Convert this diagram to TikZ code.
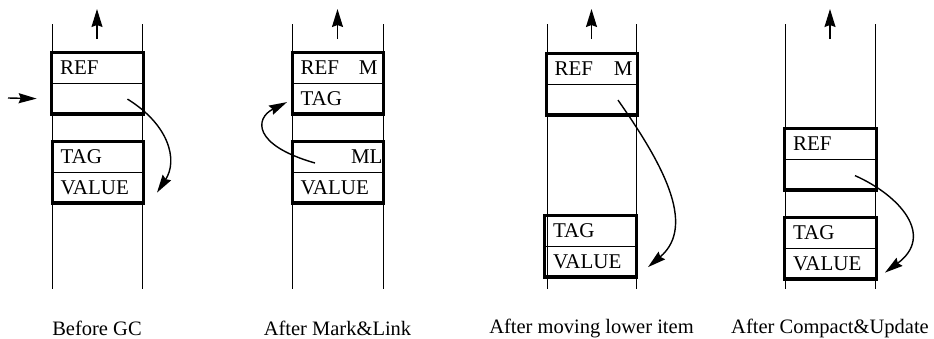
\documentclass[tikz,border=0pt]{standalone}
\usepackage{fontspec}
\setmainfont{Liberation Serif}
\usetikzlibrary{positioning,arrows.meta}
\def\lanelist{{1/52/142/Before GC}, {2/292/383/After Mark\&Link}, {3/547/636/After moving lower item}, {4/785/875/After Compact\&Update}}
\tikzstyle{lane}=[draw,line width=0.8pt]
\tikzstyle{cell}=[draw,line width=0.6pt,minimum height=30pt,text width=75pt,inner xsep=8pt,inner ysep=0pt,align=left,font=\fontsize{21}{24}\selectfont]
\tikzstyle{frame}=[draw,line width=3.2pt]
\tikzstyle{caption}=[font=\fontsize{20.5}{24}\selectfont]
\tikzstyle{link}=[draw,line width=1.4pt,-{Stealth[length=18pt,width=10pt,inset=2pt]}]
\tikzstyle{stackup}=[draw,line width=1.3pt,-{Stealth[length=18pt,width=11pt,inset=2pt]}]

\begin{document}
\begin{tikzpicture}[x=1pt,y=-1pt]
  \useasboundingbox (0,0) rectangle (934,338);

  % First we draw the stack lanes
  \foreach \i/\xl/\xr/\txt in \lanelist {
    \path[lane] (\xl,24) -- (\xl,289);
    \path[lane] (\xr,24) -- (\xr,289);
    \coordinate (tip\i) at ({(\xl+\xr)/2},9);
    \coordinate (foot\i) at ({(\xl+\xr)/2},39);
    \path[stackup] (foot\i) -- (tip\i);
    \node[caption] (cap\i) at ({(\xl+\xr)/2},328) {\txt};
  }

  % Before GC
  \node[cell] (ref1) at (97.5,68) {REF};
  \node[cell,below=0pt of ref1] (hole1) {};
  \node[cell] (tag1) at (98,157) {TAG};
  \node[cell,below=0pt of tag1] (val1) {VALUE};

  % After Mark&Link
  \node[cell] (ref2) at (338,68) {REF\hfill M\kern-2pt};
  \node[cell,below=0pt of ref2] (tag2) {TAG};
  \node[cell] (mark2) at (338,157) {\hfill ML\kern-7pt};
  \node[cell,below=0pt of mark2] (val2) {VALUE};

  % After moving lower item
  \node[cell] (ref3) at (592,69) {REF\hfill M\kern-3pt};
  \node[cell,below=0pt of ref3] (hole3) {};
  \node[cell] (tag3) at (590.5,231) {TAG};
  \node[cell,below=0pt of tag3] (val3) {VALUE};

  % After Compact&Update
  \node[cell] (ref4) at (830.5,144) {REF};
  \node[cell,below=0pt of ref4] (hole4) {};
  \node[cell] (tag4) at (830.5,233) {TAG};
  \node[cell,below=0pt of tag4] (val4) {VALUE};

  % Thick borders round each item
  \foreach \upper/\lower in {ref1/hole1, tag1/val1, ref2/tag2, mark2/val2, ref3/hole3, tag3/val3, ref4/hole4, tag4/val4}
    \path[frame] (\upper.north west) rectangle (\lower.south east);

  % Pointers
  \coordinate (in1) at (8,98);
  \path[link] (in1) -- ([xshift=-15pt]hole1.west);
  \path[link] ([shift={(30,0.5)}]hole1.center) .. controls +(42,26) and +(21,-32) .. ([shift={(59,5)}]val1.center);
  \path[link] ([shift={(-23,6)}]mark2.center) .. controls +(-63,-18) and +(-32,16) .. ([shift={(-51,3.5)}]tag2.center);
  \path[link] ([shift={(26,0.5)}]hole3.center) .. controls +(42,60) and +(50,-42) .. ([shift={(57.5,5.5)}]val3.center);
  \path[link] ([shift={(24.5,1)}]hole4.center) .. controls +(45,20) and +(50,-37) .. ([shift={(54.5,9)}]val4.center);
\end{tikzpicture}
\end{document}
